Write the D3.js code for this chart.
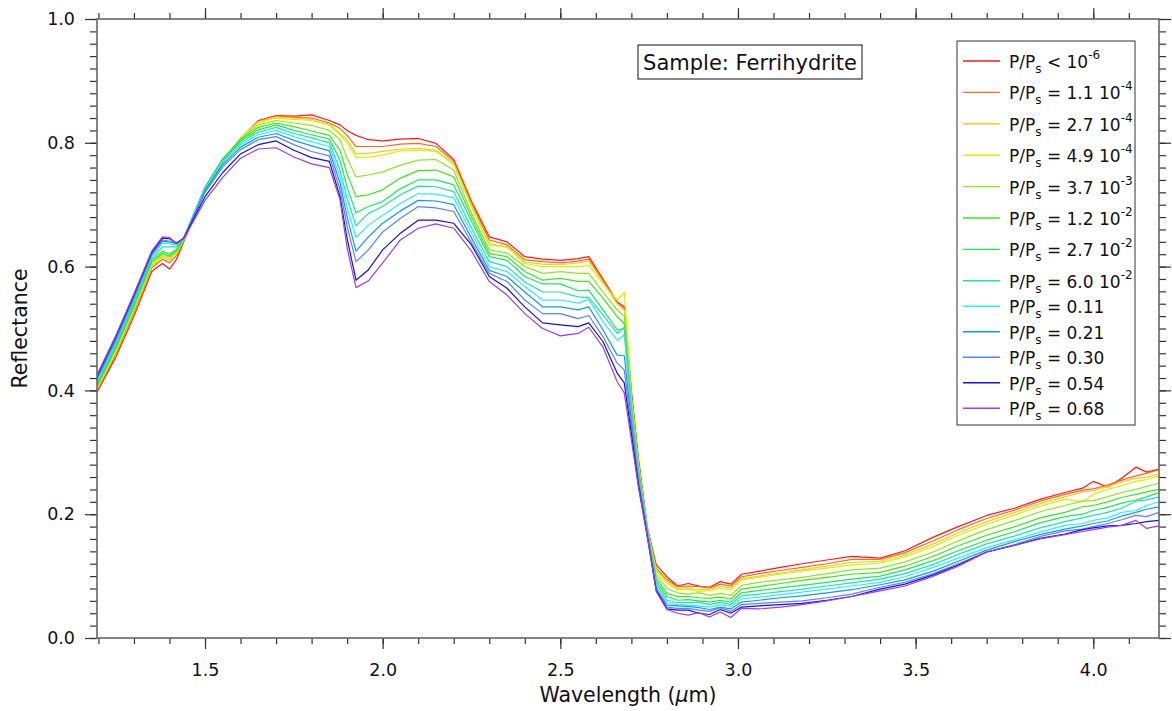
<!DOCTYPE html>
<html>
<head>
<meta charset="utf-8">
<script src="https://cdn.jsdelivr.net/npm/d3@7"></script>
<style>
	body { margin: 0; background: #fff; }
	text { font-family: "DejaVu Sans", sans-serif; fill: #111; }
</style>
</head>
<body>
<div id="chart"></div>
<script>

// wavelength grid (µm) shared by all spectra
const wavelength = [
	1.196, 1.25, 1.30, 1.35, 1.38, 1.40, 1.42, 1.44,
	1.50, 1.55, 1.60, 1.65, 1.70, 1.75, 1.80, 1.85,
	1.88, 1.90, 1.925, 1.96, 2.00, 2.05, 2.10, 2.15, 2.20, 2.25,
	2.30, 2.35, 2.40, 2.45, 2.50, 2.55, 2.58, 2.62, 2.66, 2.68,
	2.70, 2.72, 2.745, 2.77, 2.80, 2.83, 2.86, 2.89, 2.92, 2.95,
	2.98, 3.01, 3.06, 3.12, 3.18, 3.25, 3.32, 3.40, 3.47, 3.55, 3.62,
	3.70, 3.78, 3.85, 3.92, 3.97, 4.00, 4.04, 4.08, 4.12, 4.15, 4.185
];

// reflectance, one array per P/Ps step (driest first)
const s1 = [0.397,0.455,0.520,0.592,0.605,0.596,0.612,0.640,
	0.722,0.768,0.806,0.836,0.844,0.843,0.845,0.836,
	0.829,0.820,0.812,0.805,0.803,0.806,0.807,0.799,0.773,0.705,
	0.648,0.640,0.616,0.612,0.610,0.613,0.616,0.580,0.543,0.535,
	0.400,0.290,0.178,0.118,0.099,0.084,0.088,0.084,0.082,0.091,
	0.087,0.103,0.108,0.114,0.120,0.126,0.132,0.129,0.141,0.163,0.180,
	0.198,0.210,0.224,0.235,0.242,0.253,0.244,0.258,0.276,0.268,0.273];
const s2 = [0.400,0.460,0.526,0.598,0.612,0.606,0.618,0.642,
	0.724,0.770,0.807,0.835,0.843,0.841,0.840,0.832,
	0.823,0.812,0.794,0.794,0.794,0.798,0.799,0.794,0.770,0.702,
	0.643,0.635,0.611,0.608,0.606,0.609,0.612,0.577,0.541,0.532,
	0.390,0.285,0.176,0.113,0.094,0.083,0.084,0.083,0.081,0.087,
	0.084,0.099,0.104,0.109,0.114,0.120,0.127,0.127,0.138,0.157,0.175,
	0.193,0.207,0.221,0.232,0.239,0.241,0.247,0.255,0.262,0.266,0.272];
const s3 = [0.402,0.463,0.529,0.601,0.616,0.610,0.621,0.643,
	0.725,0.771,0.807,0.834,0.842,0.840,0.838,0.830,
	0.815,0.805,0.782,0.783,0.786,0.790,0.791,0.788,0.766,0.699,
	0.637,0.632,0.607,0.604,0.603,0.606,0.609,0.575,0.540,0.530,
	0.385,0.280,0.175,0.110,0.091,0.080,0.081,0.078,0.079,0.083,
	0.081,0.096,0.100,0.105,0.110,0.116,0.122,0.124,0.134,0.152,0.170,
	0.188,0.203,0.217,0.228,0.236,0.238,0.245,0.252,0.258,0.260,0.265];
const s4 = [0.404,0.465,0.531,0.603,0.618,0.612,0.622,0.643,
	0.726,0.772,0.807,0.832,0.840,0.838,0.836,0.828,
	0.813,0.800,0.776,0.777,0.780,0.787,0.788,0.786,0.765,0.697,
	0.635,0.631,0.605,0.600,0.600,0.600,0.602,0.572,0.546,0.559,
	0.390,0.280,0.174,0.107,0.088,0.078,0.079,0.075,0.077,0.080,
	0.078,0.094,0.098,0.103,0.108,0.113,0.118,0.121,0.131,0.148,0.166,
	0.184,0.199,0.213,0.224,0.220,0.232,0.240,0.246,0.253,0.256,0.262];
const s5 = [0.406,0.468,0.534,0.606,0.620,0.615,0.624,0.644,
	0.727,0.773,0.806,0.829,0.836,0.832,0.828,0.820,
	0.805,0.775,0.745,0.748,0.753,0.764,0.772,0.773,0.756,0.686,
	0.627,0.622,0.600,0.589,0.592,0.589,0.589,0.559,0.530,0.520,
	0.380,0.275,0.173,0.101,0.080,0.073,0.071,0.073,0.069,0.072,
	0.069,0.085,0.090,0.094,0.098,0.104,0.110,0.113,0.123,0.139,0.157,
	0.175,0.190,0.204,0.214,0.221,0.222,0.228,0.235,0.240,0.245,0.250];
const s6 = [0.408,0.470,0.537,0.608,0.622,0.617,0.626,0.645,
	0.728,0.774,0.805,0.825,0.832,0.826,0.819,0.812,
	0.788,0.750,0.713,0.716,0.724,0.743,0.755,0.756,0.745,0.680,
	0.621,0.616,0.592,0.578,0.581,0.576,0.576,0.549,0.519,0.508,
	0.370,0.270,0.172,0.096,0.072,0.067,0.067,0.065,0.064,0.066,
	0.063,0.079,0.083,0.088,0.093,0.098,0.103,0.106,0.116,0.132,0.149,
	0.166,0.180,0.194,0.203,0.212,0.214,0.220,0.227,0.232,0.236,0.240];
const s7 = [0.410,0.473,0.540,0.611,0.625,0.620,0.628,0.646,
	0.729,0.774,0.803,0.821,0.829,0.820,0.813,0.806,
	0.772,0.728,0.687,0.697,0.705,0.726,0.740,0.740,0.732,0.673,
	0.616,0.610,0.584,0.572,0.572,0.561,0.562,0.530,0.498,0.500,
	0.365,0.265,0.171,0.091,0.067,0.061,0.062,0.060,0.058,0.061,
	0.058,0.073,0.077,0.081,0.085,0.090,0.095,0.100,0.110,0.125,0.141,
	0.158,0.172,0.186,0.196,0.200,0.206,0.211,0.218,0.223,0.228,0.235];
const s8 = [0.412,0.476,0.543,0.614,0.632,0.632,0.632,0.646,
	0.728,0.772,0.800,0.817,0.825,0.815,0.808,0.800,
	0.756,0.710,0.666,0.686,0.697,0.716,0.730,0.729,0.721,0.662,
	0.608,0.600,0.575,0.559,0.559,0.551,0.550,0.522,0.492,0.502,
	0.360,0.262,0.170,0.087,0.061,0.057,0.057,0.058,0.054,0.058,
	0.054,0.068,0.071,0.075,0.079,0.084,0.089,0.095,0.104,0.119,0.135,
	0.152,0.165,0.178,0.188,0.194,0.198,0.203,0.210,0.221,0.223,0.228];
const s9 = [0.415,0.479,0.546,0.617,0.638,0.637,0.635,0.646,
	0.726,0.769,0.797,0.813,0.820,0.810,0.802,0.794,
	0.745,0.695,0.647,0.667,0.683,0.702,0.718,0.717,0.711,0.654,
	0.600,0.592,0.568,0.546,0.546,0.541,0.547,0.511,0.481,0.490,
	0.355,0.258,0.168,0.083,0.057,0.054,0.053,0.052,0.050,0.054,
	0.051,0.063,0.066,0.070,0.074,0.079,0.084,0.090,0.099,0.114,0.129,
	0.146,0.159,0.171,0.182,0.185,0.190,0.194,0.203,0.206,0.214,0.220];
const s10 = [0.418,0.482,0.549,0.619,0.641,0.640,0.637,0.646,
	0.723,0.765,0.793,0.809,0.815,0.804,0.795,0.787,
	0.735,0.680,0.625,0.648,0.670,0.690,0.707,0.706,0.700,0.646,
	0.594,0.584,0.559,0.535,0.535,0.530,0.535,0.498,0.457,0.456,
	0.350,0.255,0.167,0.079,0.053,0.052,0.051,0.049,0.046,0.050,
	0.047,0.058,0.061,0.065,0.068,0.073,0.078,0.086,0.094,0.108,0.124,
	0.142,0.156,0.167,0.176,0.181,0.185,0.189,0.197,0.203,0.208,0.212];
const s11 = [0.421,0.485,0.552,0.621,0.643,0.641,0.637,0.646,
	0.720,0.761,0.789,0.805,0.810,0.797,0.786,0.779,
	0.724,0.665,0.608,0.627,0.656,0.678,0.697,0.695,0.689,0.639,
	0.589,0.576,0.546,0.524,0.524,0.516,0.521,0.487,0.444,0.433,
	0.340,0.250,0.166,0.078,0.050,0.048,0.048,0.045,0.043,0.049,
	0.043,0.054,0.056,0.058,0.060,0.065,0.071,0.082,0.090,0.104,0.120,
	0.139,0.151,0.164,0.173,0.176,0.180,0.185,0.191,0.198,0.196,0.203];
const s12 = [0.423,0.488,0.554,0.623,0.646,0.645,0.638,0.646,
	0.713,0.752,0.782,0.797,0.803,0.788,0.776,0.770,
	0.713,0.645,0.578,0.595,0.627,0.654,0.675,0.675,0.670,0.635,
	0.584,0.565,0.535,0.509,0.506,0.503,0.509,0.479,0.428,0.412,
	0.330,0.247,0.164,0.077,0.047,0.045,0.045,0.040,0.038,0.046,
	0.040,0.050,0.052,0.054,0.056,0.061,0.067,0.079,0.087,0.102,0.118,
	0.139,0.150,0.161,0.168,0.175,0.178,0.181,0.182,0.185,0.188,0.190];
const s13 = [0.425,0.490,0.556,0.625,0.648,0.647,0.637,0.645,
	0.707,0.744,0.775,0.790,0.792,0.777,0.766,0.760,
	0.708,0.630,0.566,0.577,0.606,0.643,0.662,0.669,0.662,0.625,
	0.576,0.554,0.524,0.500,0.488,0.492,0.502,0.470,0.414,0.396,
	0.320,0.243,0.162,0.075,0.046,0.040,0.037,0.041,0.034,0.042,
	0.033,0.048,0.047,0.050,0.054,0.060,0.067,0.076,0.084,0.100,0.116,
	0.139,0.150,0.160,0.167,0.172,0.175,0.179,0.182,0.190,0.177,0.181];

// legend text pieces: relation, value, exponent of 10
const legendRel = ["<", "=", "=", "=", "=", "=", "=", "=", "=", "=", "=", "=", "="];
const legendVal = ["10", "1.1 10", "2.7 10", "4.9 10", "3.7 10", "1.2 10", "2.7 10", "6.0 10",
	"0.11", "0.21", "0.30", "0.54", "0.68"];
const legendExp = ["-6", "-4", "-4", "-4", "-3", "-2", "-2", "-2", "", "", "", "", ""];

const lineColors = ["#ff1a1a", "#ff6a20", "#ffc81e", "#dcf000", "#8ee81a", "#3ee61a", "#1ee85a",
	"#18e8a8", "#30f0f0", "#1498f0", "#5a80ff", "#1010e0", "#9a3cf0"];

const xMajor = [1.5, 2.0, 2.5, 3.0, 3.5, 4.0];
const yMajor = [0.0, 0.2, 0.4, 0.6, 0.8, 1.0];

const spectra = [s1, s2, s3, s4, s5, s6, s7, s8, s9, s10, s11, s12, s13];

// layout
const W = 1172, H = 711;
const plot = {left: 97, right: 1159, top: 19, bottom: 638};

const svg = d3.select("#chart").append("svg")
	.attr("width", W)
	.attr("height", H);

const x = d3.scaleLinear().domain([1.196, 4.185]).range([plot.left, plot.right]);
const y = d3.scaleLinear().domain([0, 1]).range([plot.bottom, plot.top]);

svg.append("clipPath").attr("id", "clip")
	.append("rect")
	.attr("x", plot.left).attr("y", plot.top)
	.attr("width", plot.right - plot.left).attr("height", plot.bottom - plot.top);

// spectra
const line = d3.line()
	.x((d, i) => x(wavelength[i]))
	.y(d => y(d));

svg.append("g").attr("clip-path", "url(#clip)")
	.selectAll("path")
	.data(spectra)
	.enter().append("path")
	.attr("d", line)
	.attr("fill", "none")
	.attr("stroke", (d, i) => lineColors[i])
	.attr("stroke-width", 1.2)
	.attr("stroke-linejoin", "round");

// axes: minor + major ticks on all four sides
const xMinor = x.ticks(30);
const yMinor = y.ticks(50);
const fmt = d3.format(".1f");

function styleAxis(g) {
	g.select(".domain").remove();
	g.selectAll(".tick line").attr("stroke", "#333").attr("stroke-width", 1.2);
	g.selectAll("text").style("font-size", "17.5px").attr("fill", "#111");
}

svg.append("g").attr("transform", `translate(0,${plot.bottom})`)
	.call(d3.axisBottom(x).tickValues(xMinor).tickSize(6).tickFormat(""))
	.call(styleAxis);
svg.append("g").attr("transform", `translate(0,${plot.bottom})`)
	.call(d3.axisBottom(x).tickValues(xMajor).tickSize(11).tickPadding(15).tickFormat(fmt))
	.call(styleAxis);
svg.append("g").attr("transform", `translate(0,${plot.top})`)
	.call(d3.axisTop(x).tickValues(xMinor).tickSize(6).tickFormat(""))
	.call(styleAxis);
svg.append("g").attr("transform", `translate(0,${plot.top})`)
	.call(d3.axisTop(x).tickValues(xMajor).tickSize(11).tickFormat(""))
	.call(styleAxis);

svg.append("g").attr("transform", `translate(${plot.left},0)`)
	.call(d3.axisLeft(y).tickValues(yMinor).tickSize(7).tickFormat(""))
	.call(styleAxis);
svg.append("g").attr("transform", `translate(${plot.left},0)`)
	.call(d3.axisLeft(y).tickValues(yMajor).tickSize(12).tickPadding(10).tickFormat(fmt))
	.call(styleAxis);
svg.append("g").attr("transform", `translate(${plot.right},0)`)
	.call(d3.axisRight(y).tickValues(yMinor).tickSize(7).tickFormat(""))
	.call(styleAxis);
svg.append("g").attr("transform", `translate(${plot.right},0)`)
	.call(d3.axisRight(y).tickValues(yMajor).tickSize(12).tickFormat(""))
	.call(styleAxis);

// frame
svg.append("rect")
	.attr("x", plot.left).attr("y", plot.top)
	.attr("width", plot.right - plot.left).attr("height", plot.bottom - plot.top)
	.attr("fill", "none")
	.attr("stroke", "#666")
	.attr("stroke-width", 1.6);

// axis titles
svg.append("text")
	.attr("transform", `translate(27,${(plot.top + plot.bottom) / 2}) rotate(-90)`)
	.attr("text-anchor", "middle")
	.style("font-size", "20.5px")
	.text("Reflectance");

const xt = svg.append("text")
	.attr("x", (plot.left + plot.right) / 2)
	.attr("y", 702)
	.attr("text-anchor", "middle")
	.style("font-size", "20.5px");
xt.append("tspan").text("Wavelength (");
xt.append("tspan").style("font-style", "italic").text("\u03bc");
xt.append("tspan").text("m)");

// sample box
svg.append("rect")
	.attr("x", 638).attr("y", 45)
	.attr("width", 224).attr("height", 34)
	.attr("fill", "#fff").attr("stroke", "#111").attr("stroke-width", 1);
svg.append("text")
	.attr("x", 750).attr("y", 70)
	.attr("text-anchor", "middle")
	.style("font-size", "21px")
	.text("Sample: Ferrihydrite");

// legend
const legend = svg.append("g").attr("class", "legend");
legend.append("rect")
	.attr("x", 957).attr("y", 41)
	.attr("width", 178).attr("height", 384)
	.attr("fill", "#fff").attr("stroke", "#333").attr("stroke-width", 1);

const rowY = i => 61 + 31.4 * Math.min(i, 7) + 25.5 * Math.max(0, i - 7);

const rows = legend.selectAll(".row")
	.data(lineColors)
	.enter().append("g")
	.attr("class", "row")
	.attr("transform", (d, i) => `translate(0,${rowY(i)})`);

rows.append("line")
	.attr("x1", 963).attr("x2", 1000)
	.attr("stroke", d => d)
	.attr("stroke-width", 1.4);

rows.each(function (d, i) {
	const t = d3.select(this).append("text")
		.attr("x", 1009).attr("y", 7)
		.style("font-size", "17px");
	t.append("tspan").text("P/P");
	t.append("tspan").attr("dy", 5).style("font-size", "12px").text("s");
	t.append("tspan").attr("dy", -5).text(` ${legendRel[i]} ${legendVal[i]}`);
	if (legendExp[i]) {
		t.append("tspan").attr("dy", -9).style("font-size", "12px").text(legendExp[i]);
	}
});

</script>
</body>
</html>
